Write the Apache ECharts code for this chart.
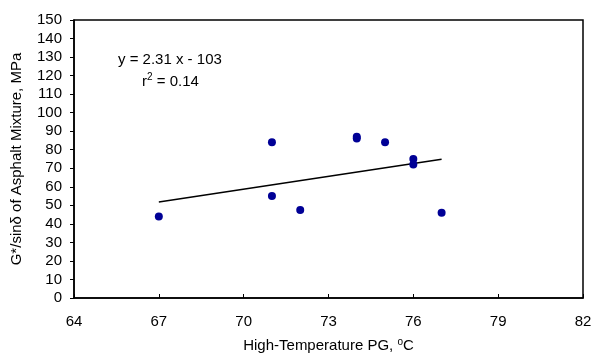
<!DOCTYPE html>
<html><head><meta charset="utf-8">
<script src="https://cdn.jsdelivr.net/npm/echarts@6/dist/echarts.min.js"></script>
<style>html,body{margin:0;padding:0;background:#fff}#c{width:600px;height:358px}</style>
</head><body><div id="c"></div>
<script>
var pgTemp = [67, 71, 71, 72, 74, 74, 75, 76, 76, 77];
var modulus = [44, 55, 84, 47.5, 87, 86, 84, 75, 72, 46];
var trendX = [67, 77];
var trendY = [51.8, 74.9];
var xTicks = [64, 67, 70, 73, 76, 79, 82];
var yTicks = [0, 10, 20, 30, 40, 50, 60, 70, 80, 90, 100, 110, 120, 130, 140, 150];

var font = '"Liberation Sans", Arial, sans-serif';
var chart = echarts.init(document.getElementById('c'));
chart.setOption({
  animation: false,
  grid: {left: 74, right: 17, top: 20, bottom: 60, outerBoundsMode: 'none', containLabel: false, show: true, borderColor: '#000', borderWidth: 1.5, backgroundColor: '#fff'},
  xAxis: {
    type: 'value', min: 64, max: 82, interval: 3,
    axisLine: {show: true, onZero: false, lineStyle: {color: '#000', width: 1.5}},
    axisTick: {show: true, inside: true, length: 4, lineStyle: {color: '#000'}},
    splitLine: {show: false},
    axisLabel: {color: '#000', fontFamily: font, fontSize: 15, margin: 16},
    name: '{t|High-Temperature PG, }{s|o}{t|C}',
    nameLocation: 'middle', nameGap: 39,
    nameTextStyle: {rich: {t: {fontFamily: font, fontSize: 15, color: '#000', lineHeight: 17}, s: {fontFamily: font, fontSize: 10, color: '#000', verticalAlign: 'top', lineHeight: 17, padding: [0,0,9,0]}}}
  },
  yAxis: {
    type: 'value', min: 0, max: 150, interval: 10,
    axisLine: {show: true, lineStyle: {color: '#000', width: 1.5}},
    axisTick: {show: true, inside: false, length: 4, lineStyle: {color: '#000'}},
    splitLine: {show: false},
    axisLabel: {color: '#000', fontFamily: font, fontSize: 15, margin: 12},
    name: 'G*/sinδ of Asphalt Mixture, MPa',
    nameLocation: 'middle', nameGap: 50,
    nameTextStyle: {fontFamily: font, fontSize: 15, color: '#000'}
  },
  graphic: [
    {type: 'text', left: 118, top: 52, style: {text: 'y = 2.31 x - 103', font: '15px ' + font, fill: '#000'}},
    {type: 'text', left: 142, top: 72, style: {
      text: '{t|r}{s|2}{t| = 0.14}',
      rich: {t: {fontFamily: font, fontSize: 15, fill: '#000', lineHeight: 20}, s: {fontFamily: font, fontSize: 10, fill: '#000', verticalAlign: 'top', lineHeight: 20, padding: [0,0,10,0]}}
    }}
  ],
  series: [
    {type: 'line', data: trendX.map(function(x, i){return [x, trendY[i]];}), symbol: 'none', lineStyle: {color: '#000', width: 1.5}, z: 2},
    {type: 'scatter', data: pgTemp.map(function(x, i){return [x, modulus[i]];}), symbolSize: 8, itemStyle: {color: '#000096', opacity: 1}, z: 3}
  ]
});
</script></body></html>
